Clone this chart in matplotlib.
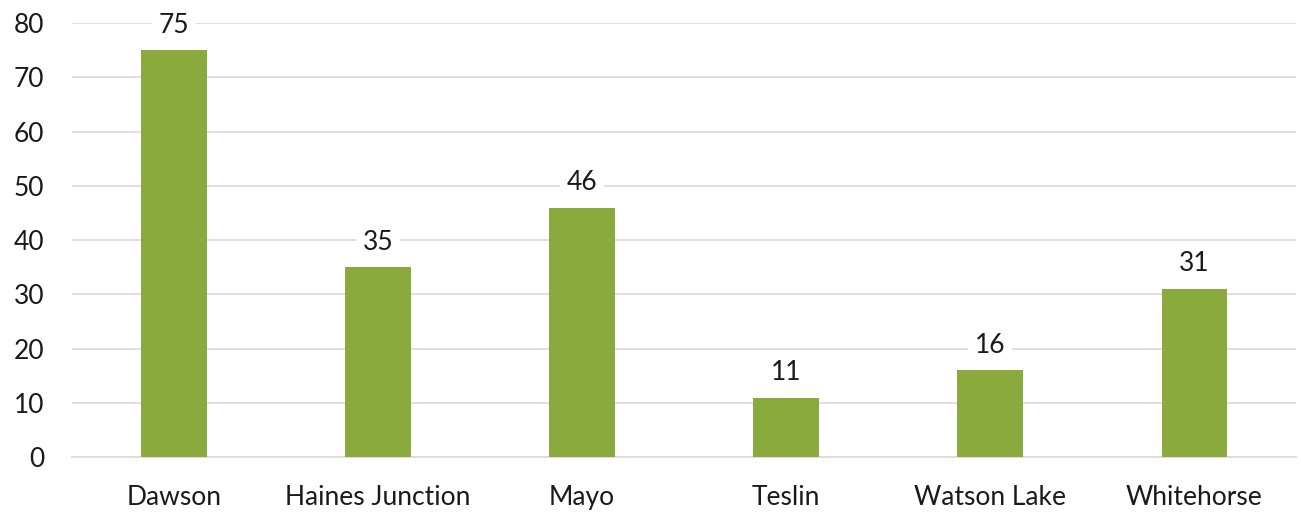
import matplotlib.pyplot as plt

# Community counts
communities = ['Dawson', 'Haines Junction', 'Mayo', 'Teslin', 'Watson Lake', 'Whitehorse']
counts = [75, 35, 46, 11, 16, 31]

plt.rcParams['font.family'] = ['Lato', 'DejaVu Sans']

fig = plt.figure(figsize=(13.01, 5.12), dpi=100)
ax = fig.add_axes([0.0553, 0.107, 0.941, 0.848])

x = range(len(communities))
bars = ax.bar(x, counts, width=0.32, color='#8BAA3E', zorder=3)

# value labels above each bar, white box hides the gridline behind
for rect, v in zip(bars, counts):
    ax.annotate(str(v), (rect.get_x() + rect.get_width() / 2, v),
                xytext=(0, 18), textcoords='offset points',
                ha='center', va='center', fontsize=19, color='#1a1a1a',
                bbox=dict(boxstyle='square,pad=0.25', fc='white', ec='none'),
                zorder=4)

ax.set_xlim(-0.5, len(communities) - 0.5)
ax.set_ylim(0, 80)
ax.set_yticks(range(0, 81, 10))
ax.set_xticks(list(x))
ax.set_xticklabels(communities)
ax.tick_params(axis='both', length=0, labelsize=19, labelcolor='#1a1a1a')
ax.tick_params(axis='x', pad=20)
ax.tick_params(axis='y', pad=20)

ax.grid(axis='y', color='#d9d9d9', linewidth=1.2, zorder=0)
for s in ['top', 'right', 'left']:
    ax.spines[s].set_visible(False)
ax.spines['bottom'].set_color('#d9d9d9')
ax.spines['bottom'].set_linewidth(1.2)

fig.savefig('out.png', dpi=100)
